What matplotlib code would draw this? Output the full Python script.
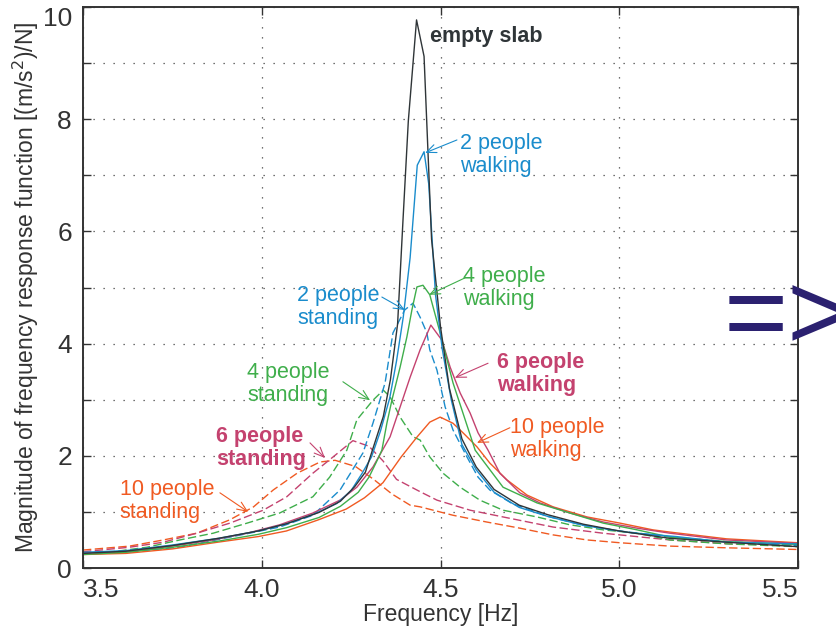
import matplotlib
matplotlib.use("Agg")
import matplotlib.pyplot as plt

plt.rcParams["font.family"] = ["Liberation Sans", "DejaVu Sans"]

# frequency [Hz] and magnitude of FRF [(m/s^2)/N]
f_empty = [3.50, 3.62, 3.75, 3.88, 3.99, 4.07, 4.16, 4.22, 4.26, 4.29, 4.31, 4.34, 4.36, 4.38,
           4.395, 4.41, 4.433, 4.454, 4.475, 4.50, 4.525, 4.56, 4.60, 4.65, 4.72, 4.80, 4.90,
           5.00, 5.14, 5.30, 5.50]
y_empty = [0.26, 0.30, 0.40, 0.53, 0.66, 0.79, 0.99, 1.19, 1.45, 1.71, 2.11, 2.70, 3.36, 4.35,
           6.19, 7.97, 9.77, 9.12, 5.86, 4.30, 3.20, 2.30, 1.80, 1.40, 1.12, 0.95, 0.78,
           0.66, 0.53, 0.46, 0.38]

f_2walk = [3.50, 3.62, 3.75, 3.88, 3.99, 4.07, 4.146, 4.21, 4.25, 4.28, 4.307, 4.332, 4.358,
           4.377, 4.396, 4.415, 4.435, 4.454, 4.467, 4.486, 4.505, 4.53, 4.56, 4.60, 4.65,
           4.72, 4.80, 4.90, 5.03, 5.16, 5.30, 5.50]
y_2walk = [0.28, 0.31, 0.41, 0.53, 0.66, 0.79, 0.96, 1.15, 1.38, 1.68, 1.98, 2.44, 3.03,
           3.69, 4.48, 5.53, 7.18, 7.42, 6.85, 4.87, 3.90, 3.00, 2.20, 1.75, 1.35,
           1.08, 0.92, 0.76, 0.63, 0.56, 0.46, 0.43]

f_2stand = [3.50, 3.63, 3.77, 3.911, 4.05, 4.143, 4.219, 4.283, 4.311, 4.345, 4.367, 4.40,
            4.423, 4.443, 4.462, 4.47, 4.49, 4.513, 4.535, 4.574, 4.605, 4.638, 4.70, 4.80,
            4.90, 5.00, 5.15, 5.30, 5.50]
y_2stand = [0.27, 0.29, 0.37, 0.55, 0.73, 0.94, 1.39, 2.05, 2.58, 3.30, 4.19, 4.60,
            4.72, 4.47, 4.19, 3.89, 3.53, 2.87, 2.46, 1.98, 1.62, 1.39, 1.15, 0.92,
            0.76, 0.66, 0.55, 0.47, 0.40]

f_4walk = [3.50, 3.62, 3.75, 3.88, 3.99, 4.07, 4.16, 4.22, 4.27, 4.30, 4.32, 4.336, 4.35,
           4.364, 4.387, 4.406, 4.42, 4.434, 4.451, 4.47, 4.499, 4.535, 4.597, 4.675, 4.77,
           4.862, 4.955, 5.05, 5.142, 5.30, 5.50]
y_4walk = [0.24, 0.28, 0.37, 0.48, 0.60, 0.72, 0.90, 1.10, 1.35, 1.62, 1.88, 2.10, 2.58,
           2.99, 3.58, 4.12, 4.60, 5.01, 5.04, 4.87, 4.19, 3.30, 2.10, 1.44, 1.16,
           0.98, 0.80, 0.68, 0.55, 0.47, 0.42]

f_4stand = [3.50, 3.584, 3.679, 3.771, 3.864, 3.959, 4.05, 4.143, 4.19, 4.238, 4.266, 4.311,
            4.34, 4.359, 4.387, 4.423, 4.443, 4.47, 4.507, 4.555, 4.61, 4.675, 4.77, 4.862,
            4.955, 5.05, 5.142, 5.30, 5.50]
y_4stand = [0.27, 0.29, 0.37, 0.50, 0.62, 0.80, 0.98, 1.27, 1.62, 2.10, 2.64, 2.99,
            3.17, 3.05, 2.69, 2.34, 2.28, 1.98, 1.69, 1.44, 1.21, 1.03, 0.91, 0.77,
            0.68, 0.62, 0.50, 0.43, 0.38]

f_6walk = [3.50, 3.63, 3.771, 3.864, 3.959, 4.05, 4.143, 4.219, 4.266, 4.311, 4.359, 4.387,
           4.415, 4.443, 4.473, 4.504, 4.527, 4.555, 4.583, 4.605, 4.633, 4.666, 4.722,
           4.778, 4.862, 4.955, 5.05, 5.142, 5.30, 5.50]
y_6walk = [0.27, 0.29, 0.41, 0.50, 0.62, 0.77, 0.98, 1.21, 1.44, 1.80, 2.34, 2.87,
           3.40, 3.89, 4.33, 4.06, 3.58, 3.12, 2.76, 2.41, 2.10, 1.69, 1.34,
           1.16, 0.98, 0.82, 0.71, 0.62, 0.50, 0.44]

f_6stand = [3.50, 3.63, 3.725, 3.818, 3.911, 4.004, 4.07, 4.143, 4.19, 4.255, 4.30, 4.339,
            4.377, 4.443, 4.49, 4.583, 4.675, 4.815, 4.955, 5.142, 5.31, 5.50]
y_6stand = [0.29, 0.37, 0.46, 0.62, 0.80, 1.03, 1.27, 1.69, 1.93, 2.27, 2.17, 1.91,
            1.58, 1.36, 1.21, 1.03, 0.91, 0.73, 0.62, 0.50, 0.43, 0.41]

f_10walk = [3.50, 3.62, 3.75, 3.877, 3.99, 4.069, 4.159, 4.236, 4.287, 4.339, 4.39, 4.435,
            4.47, 4.499, 4.535, 4.563, 4.602, 4.638, 4.686, 4.742, 4.815, 4.91, 5.002,
            5.094, 5.142, 5.30, 5.50]
y_10walk = [0.24, 0.26, 0.34, 0.46, 0.56, 0.66, 0.86, 1.05, 1.25, 1.52, 1.98, 2.34,
            2.60, 2.69, 2.58, 2.41, 2.16, 1.87, 1.57, 1.30, 1.09, 0.91, 0.80,
            0.68, 0.64, 0.52, 0.45]

f_10stand = [3.50, 3.63, 3.725, 3.818, 3.911, 3.977, 4.032, 4.099, 4.163, 4.205, 4.262,
             4.313, 4.364, 4.415, 4.443, 4.535, 4.629, 4.722, 4.815, 4.91, 5.002, 5.142,
             5.30, 5.50]
y_10stand = [0.32, 0.39, 0.50, 0.62, 0.86, 1.09, 1.39, 1.69, 1.89, 1.92, 1.81,
             1.58, 1.32, 1.12, 1.09, 0.94, 0.82, 0.71, 0.59, 0.50, 0.45, 0.39,
             0.36, 0.33]

c_black = "#2f3538"
c_blue = "#1a8ccc"
c_green = "#3fae4b"
c_mag = "#c4426f"
c_orange = "#f05a22"

fig = plt.figure(figsize=(8.36, 6.34), dpi=100)
ax = fig.add_axes([83 / 836, 66 / 634, 715 / 836, 561 / 634])

lw = 1.0
dash = (6, 2.5)
ax.plot(f_10stand, y_10stand, color=c_orange, lw=lw, dashes=dash)
ax.plot(f_6stand, y_6stand, color=c_mag, lw=lw, dashes=dash)
ax.plot(f_4stand, y_4stand, color=c_green, lw=lw, dashes=dash)
ax.plot(f_2stand, y_2stand, color=c_blue, lw=lw, dashes=dash)
ax.plot(f_10walk, y_10walk, color=c_orange, lw=lw)
ax.plot(f_6walk, y_6walk, color=c_mag, lw=lw)
ax.plot(f_4walk, y_4walk, color=c_green, lw=lw)
ax.plot(f_2walk, y_2walk, color=c_blue, lw=lw)
ax.plot(f_empty, y_empty, color=c_black, lw=lw)

ax.set_xlim(3.5, 5.5)
ax.set_ylim(0, 10)
ax.set_xticks([3.5, 4.0, 4.5, 5.0, 5.5])
ax.set_xticklabels(["3.5", "4.0", "4.5", "5.0", "5.5"])
ax.set_yticks([0, 2, 4, 6, 8, 10])
ax.set_yticks([1, 3, 5, 7, 9], minor=True)
ax.tick_params(which="both", direction="in", length=6, width=1.0, color="#333333",
               top=True, right=True, labelsize=19, labelcolor="#333333", pad=8)
ax.tick_params(axis="x", pad=7)
ax.grid(True, which="both", color="#444444", linestyle=(0, (1, 7)), linewidth=0.9)

# end labels sit inside the box like in the original
xl = ax.get_xticklabels()
xl[0].set_ha("left")
xl[-1].set_ha("right")
yl = ax.get_yticklabels()
yl[-1].set_va("top")

for s in ax.spines.values():
    s.set_color("#333333")
    s.set_linewidth(1.4)

ax.set_xlabel("Frequency [Hz]", fontsize=16.5, color="#333333", labelpad=1)
ax.set_ylabel("Magnitude of frequency response function [(m/s$^2$)/N]", fontsize=16.5,
              color="#333333", labelpad=1)

# labels and arrows
ax.text(4.471, 9.48, "empty slab", color=c_black, fontsize=15.5, fontweight="bold",
        va="center", ha="left")

labels = [
    ("2 people\nwalking", c_blue, "normal", (4.555, 7.36), (4.546, 7.63), (4.457, 7.40)),
    ("2 people\nstanding", c_blue, "normal", (4.099, 4.65), (4.336, 4.83), (4.400, 4.60)),
    ("4 people\nwalking", c_green, "normal", (4.563, 4.99), (4.568, 5.17), (4.468, 4.87)),
    ("4 people\nstanding", c_green, "normal", (3.959, 3.28), (4.227, 3.32), (4.303, 2.99)),
    ("6 people\nwalking", c_mag, "bold", (4.658, 3.46), (4.633, 3.65), (4.540, 3.39)),
    ("6 people\nstanding", c_mag, "bold", (3.872, 2.14), (4.135, 2.23), (4.177, 1.96)),
    ("10 people\nwalking", c_orange, "normal", (4.694, 2.30), (4.694, 2.50), (4.602, 2.23)),
    ("10 people\nstanding", c_orange, "normal", (3.603, 1.19), (3.883, 1.34), (3.962, 1.00)),
]
for txt, col, wt, pos, tail, tip in labels:
    ax.text(pos[0], pos[1], txt, color=col, fontsize=15.5, fontweight=wt,
            ha="left", va="center", linespacing=1.1)
    ax.annotate("", xy=tip, xytext=tail,
                arrowprops=dict(arrowstyle="->,head_length=0.7,head_width=0.3",
                                color=col, lw=0.8, shrinkA=0, shrinkB=0))

fig.text(724 / 836, 1 - 349 / 634, "=>", color="#2b2170", fontsize=79,
         ha="left", va="baseline", zorder=5)

fig.savefig("out.png", dpi=100)
